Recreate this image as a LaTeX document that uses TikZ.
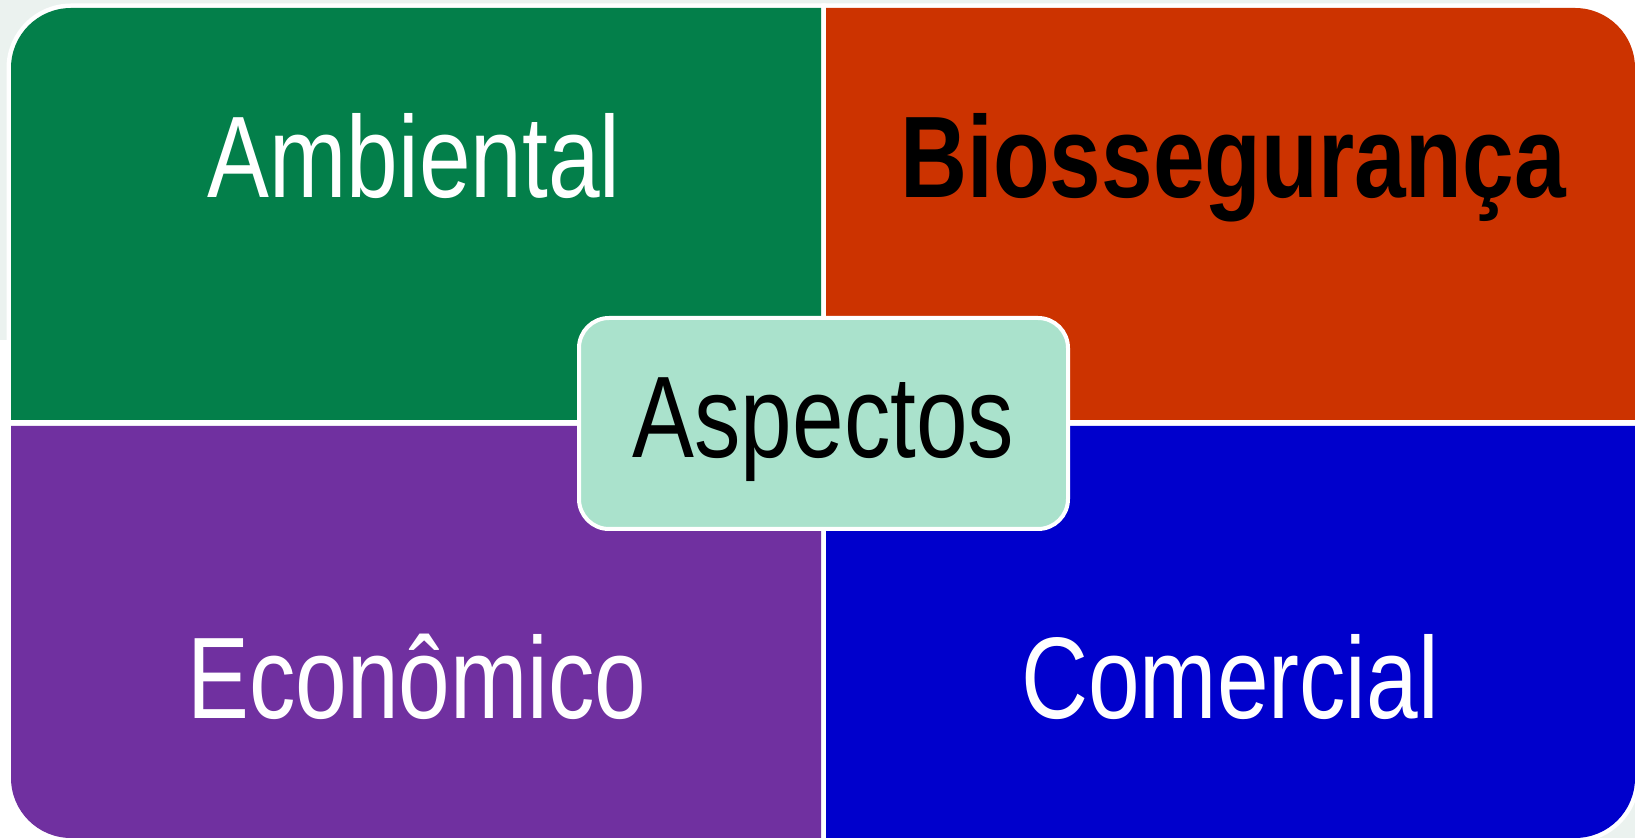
\documentclass[tikz,border=0pt]{standalone}
\usepackage{fontspec}
\newfontfamily\quadfont[FakeStretch=0.8]{Liberation Sans}
\definecolor{ambverde}{HTML}{037F4A}
\definecolor{biolaranja}{HTML}{CC3300}
\definecolor{ecoroxo}{HTML}{7030A0}
\definecolor{comazul}{HTML}{0000CC}
\definecolor{aspmenta}{HTML}{AAE2CC}
\definecolor{fundo}{HTML}{EBF2EF}
\begin{document}
\begin{tikzpicture}[x=0.5pt,y=-0.5pt]
			\tikzstyle{every node}=[font=\quadfont\fontsize{58}{60}\selectfont,inner sep=0pt]
			\tikzset{gap/.style={draw=white,line width=4.5pt}}
			\tikzset{quadtext/.style={anchor=base,text=white}}
			\useasboundingbox (0,0) rectangle (1635,838);
			\fill[fundo] (0,0) rectangle (1540,340);
			\fill[fundo] (1560,780) rectangle (1635,838);
			\draw[gap] (11,420) [rounded corners=30pt] -- (11,8) [sharp corners] -- (821,8) -- (821,420) -- cycle;
			\draw[gap] (826,8) [rounded corners=30pt] -- (1635,8) [sharp corners] -- (1635,420) -- (826,420) -- cycle;
			\draw[gap] (821,838) [rounded corners=30pt] -- (11,838) [sharp corners] -- (11,426) -- (821,426) -- cycle;
			\draw[gap] (826,426) -- (1635,426) [rounded corners=30pt] -- (1635,838) [sharp corners] -- (826,838) -- cycle;
			\fill[ambverde] (11,420) [rounded corners=30pt] -- (11,8) [sharp corners] -- (821,8) -- (821,420) -- cycle;
			\fill[biolaranja] (826,8) [rounded corners=30pt] -- (1635,8) [sharp corners] -- (1635,420) -- (826,420) -- cycle;
			\fill[ecoroxo] (821,838) [rounded corners=30pt] -- (11,838) [sharp corners] -- (11,426) -- (821,426) -- cycle;
			\fill[comazul] (826,426) -- (1635,426) [rounded corners=30pt] -- (1635,838) [sharp corners] -- (826,838) -- cycle;
			\node[quadtext] (amb) at (414,198) {Ambiental};
			\node[anchor=base,font=\quadfont\fontsize{58}{60}\selectfont\bfseries] (bio) at (1233,198) {Biossegurança};
			\node[quadtext] (eco) at (417,719) {Econômico};
			\node[quadtext] (com) at (1230,719) {Comercial};
			\node[draw=white,line width=2pt,fill=aspmenta,rounded corners=15pt,
				minimum width=244.5pt,minimum height=105.5pt,text depth=6pt] (asp) at (823.5,423.5) {Aspectos};
\end{tikzpicture}
\end{document}
